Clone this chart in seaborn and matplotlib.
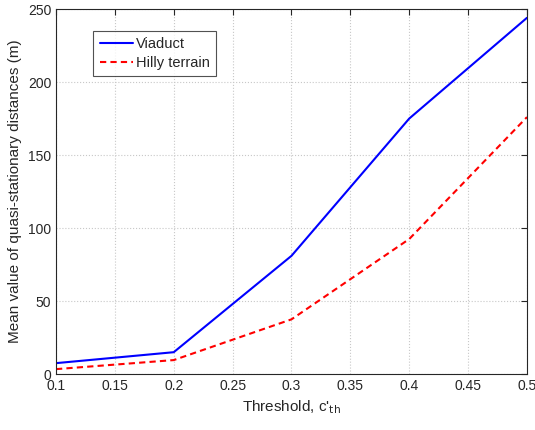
import matplotlib
matplotlib.use("Agg")
import matplotlib.pyplot as plt
import seaborn as sns
import pandas as pd

# data
threshold = [0.1, 0.2, 0.3, 0.4, 0.5]
viaduct = [7.5, 15, 81, 175, 244]
hilly = [3.4, 9.6, 37.5, 92.5, 176]

df = pd.DataFrame({
    "threshold": threshold * 2,
    "distance": viaduct + hilly,
    "scenario": ["Viaduct"] * 5 + ["Hilly terrain"] * 5,
})

sns.set_style("white")
plt.rcParams["font.family"] = ["Liberation Sans", "DejaVu Sans"]
plt.rcParams["font.size"] = 10

fig = plt.figure(figsize=(5.35, 4.3), dpi=100)
ax = fig.add_axes([0.1047, 0.130, 0.8803, 0.849])

sns.lineplot(data=df, x="threshold", y="distance", hue="scenario", style="scenario",
             palette={"Viaduct": "#0000ff", "Hilly terrain": "#ff0000"},
             dashes={"Viaduct": "", "Hilly terrain": (3, 2)},
             linewidth=1.5, ax=ax)

ax.set_xlim(0.1, 0.5)
ax.set_ylim(0, 250)
ax.set_xticks([0.1, 0.15, 0.2, 0.25, 0.3, 0.35, 0.4, 0.45, 0.5])
ax.set_xticklabels(["0.1", "0.15", "0.2", "0.25", "0.3", "0.35", "0.4", "0.45", "0.5"])
ax.set_yticks([0, 50, 100, 150, 200, 250])
ax.grid(True, linestyle=":", color="#c8c8c8", linewidth=0.8)
ax.tick_params(direction="in", length=4, top=True, right=True, labelsize=10, colors="#262626")
for s in ax.spines.values():
    s.set_color("#262626")
    s.set_linewidth(0.8)

ax.set_xlabel("Threshold, c'$_{\\mathrm{th}}$", fontsize=11, color="#262626")
ax.set_ylabel("Mean value of quasi-stationary distances (m)", fontsize=11, color="#262626")

leg = ax.legend(loc="upper left", bbox_to_anchor=(0.0786, 0.94), borderaxespad=0,
                fontsize=10.5, frameon=True, fancybox=False, edgecolor="#262626",
                handlelength=2.3, handletextpad=0.2, borderpad=0.45, labelspacing=0.3)
leg.get_frame().set_linewidth(0.8)

fig.savefig("out.png", dpi=100)
